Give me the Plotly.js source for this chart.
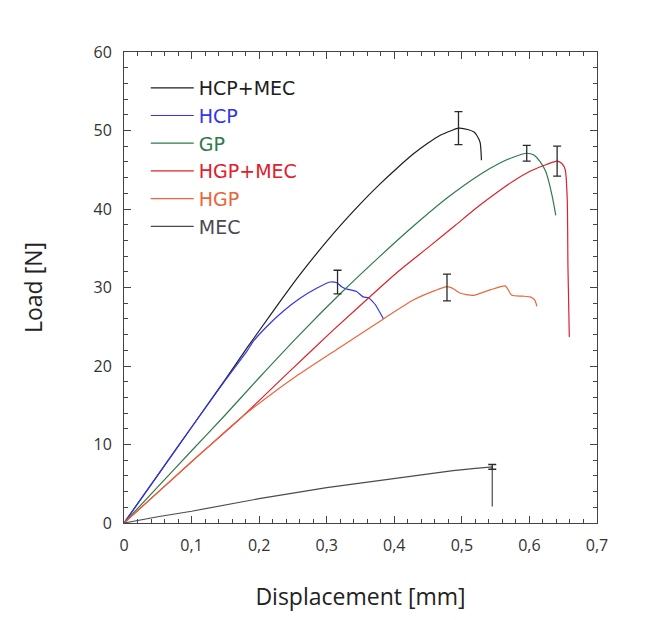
<!DOCTYPE html>
<html>
<head>
<meta charset="utf-8">
<script src="https://cdn.plot.ly/plotly-3.0.1.min.js"></script>
<style>html,body{margin:0;padding:0;background:#fff;}#chart{width:652px;height:620px;}</style>
</head>
<body>
<div id="chart"></div>
<script>
// Series names
const seriesNames = ["HCP+MEC", "HCP", "GP", "HGP+MEC", "HGP", "MEC"];
const seriesColors = ["#1e1e1e", "#3434f0", "#2f7a4c", "#e0202c", "#e8673a", "#4a4a55"];

// HCP+MEC
const hcpMecX = [0, 0.05, 0.1, 0.15, 0.182, 0.22, 0.26, 0.31, 0.349, 0.379, 0.404, 0.428, 0.45, 0.468, 0.485, 0.495, 0.51, 0.518, 0.522, 0.527, 0.529];
const hcpMecY = [0, 6.1, 12.2, 18.3, 22.3, 26.9, 31.6, 36.9, 40.6, 43.2, 45.2, 47.0, 48.4, 49.4, 50.0, 50.3, 50.1, 49.8, 49.4, 48.5, 46.2];

// HCP
const hcpX = [0, 0.05, 0.1, 0.15, 0.182, 0.191, 0.211, 0.236, 0.26, 0.285, 0.305, 0.315, 0.322, 0.33, 0.344, 0.354, 0.362, 0.368, 0.372, 0.384];
const hcpY = [0, 6.1, 12.2, 18.2, 21.9, 23.1, 25.0, 27.0, 28.6, 29.9, 30.7, 30.6, 30.1, 29.8, 29.5, 28.8, 28.7, 28.2, 27.8, 26.0];

// GP
const gpX = [0, 0.05, 0.1, 0.147, 0.2, 0.26, 0.32, 0.379, 0.428, 0.478, 0.527, 0.555, 0.576, 0.596, 0.606, 0.616, 0.624, 0.628, 0.634, 0.639];
const gpY = [0, 4.6, 9.2, 13.5, 18.5, 24.0, 29.2, 34.0, 37.8, 41.4, 44.4, 45.8, 46.6, 47.1, 46.9, 46.0, 44.8, 43.7, 41.5, 39.2];

// HGP+MEC
const hgpMecX = [0, 0.05, 0.1, 0.172, 0.24, 0.31, 0.379, 0.408, 0.453, 0.49, 0.527, 0.555, 0.577, 0.601, 0.626, 0.641, 0.648, 0.653, 0.656, 0.657, 0.659];
const hgpMecY = [0, 3.9, 7.8, 13.3, 18.9, 24.6, 30.0, 32.2, 35.3, 37.9, 40.5, 42.3, 43.6, 44.8, 45.7, 46.1, 45.8, 45.0, 41.1, 32.7, 23.7];

// HGP
const hgpX = [0, 0.1, 0.17, 0.21, 0.26, 0.32, 0.384, 0.428, 0.46, 0.478, 0.488, 0.497, 0.517, 0.542, 0.564, 0.568, 0.574, 0.59, 0.601, 0.608, 0.611];
const hgpY = [0, 7.8, 13.2, 15.9, 19.0, 22.4, 26.0, 28.4, 29.6, 30.1, 29.8, 29.3, 29.0, 29.7, 30.2, 29.8, 29.0, 28.9, 28.8, 28.4, 27.6];

// MEC
const mecX = [0, 0.05, 0.1, 0.2, 0.3, 0.4, 0.438, 0.487, 0.52, 0.545, 0.545];
const mecY = [0, 0.8, 1.5, 3.1, 4.5, 5.7, 6.1, 6.66, 6.95, 7.15, 2.1];

// Error bars (peak points)
const errX = [0.495, 0.316, 0.596, 0.641, 0.478, 0.545];
const errY = [50.3, 30.7, 47.1, 46.1, 30.0, 7.15];
const errV = [2.1, 1.5, 1.0, 1.9, 1.7, 0.3];

const xs = [hcpMecX, hcpX, gpX, hgpMecX, hgpX, mecX];
const ys = [hcpMecY, hcpY, gpY, hgpMecY, hgpY, mecY];

const FONT = 'Open Sans, Noto Sans, sans-serif';

const traces = seriesNames.map((n, i) => ({
  type: 'scatter', mode: 'lines', x: xs[i], y: ys[i],
  name: '<span style="color:' + seriesColors[i] + '">' + n + '</span>',
  line: {color: seriesColors[i], width: 1.2, shape: i === 5 ? 'linear' : 'spline', smoothing: 0.6},
  hoverinfo: 'x+y'
}));
traces.push({
  type: 'scatter', mode: 'markers', x: errX, y: errY, showlegend: false,
  marker: {size: 1, color: 'rgba(0,0,0,0)'},
  error_y: {type: 'data', array: errV, visible: true, color: '#2a2a2a', thickness: 1.3, width: 4}
});

const axisCommon = {
  showline: true, linecolor: '#444', linewidth: 1, mirror: 'allticks',
  ticks: 'inside', ticklen: 7, tickcolor: '#444', tickwidth: 1,
  showgrid: false, zeroline: false,
  tickfont: {family: FONT, size: 16, color: '#333'}
};

const layout = {
  width: 652, height: 620,
  margin: {l: 124, r: 55, t: 52, b: 97},
  paper_bgcolor: '#fff', plot_bgcolor: '#fff',
  separators: ', ',
  showlegend: true,
  legend: {
    x: 0.046, y: 0.964, xanchor: 'left', yanchor: 'top',
    bgcolor: 'rgba(0,0,0,0)', borderwidth: 0,
    font: {family: 'DejaVu Sans, sans-serif', size: 19, color: '#222'},
    itemwidth: 43,
    tracegroupgap: 0
  },
  xaxis: Object.assign({}, axisCommon, {
    range: [0, 0.7], dtick: 0.1, tick0: 0,
    ticklabelstandoff: 8,
    minor: {dtick: 0.02, ticks: 'inside', ticklen: 4, tickcolor: '#444', showgrid: false},
    title: {text: 'Displacement [mm]', font: {family: FONT, size: 23, color: '#222'}, standoff: 33}
  }),
  yaxis: Object.assign({}, axisCommon, {
    range: [0, 60], dtick: 10, tick0: 0,
    ticklabelstandoff: 8,
    minor: {dtick: 2, ticks: 'inside', ticklen: 4, tickcolor: '#444', showgrid: false},
    title: {text: 'Load [N]', font: {family: FONT, size: 23, color: '#222'}, standoff: 44}
  })
};

Plotly.newPlot('chart', traces, layout, {displayModeBar: false, staticPlot: true});
</script>
</body>
</html>
